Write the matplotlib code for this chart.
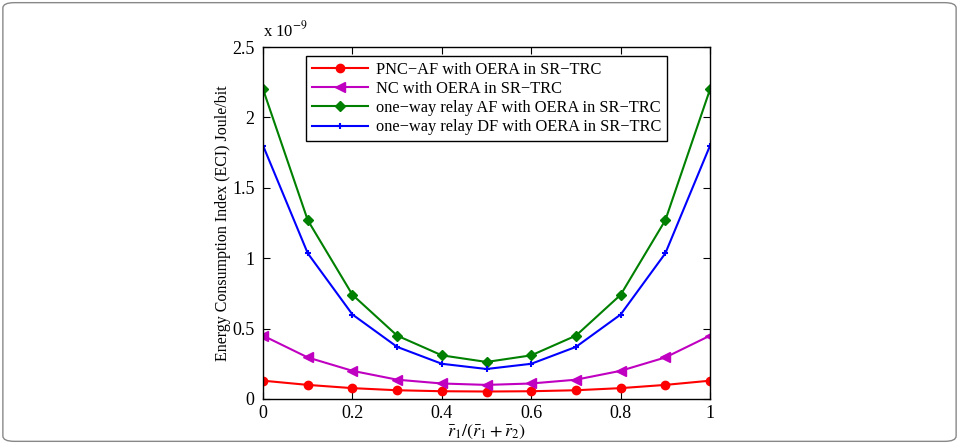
import matplotlib
matplotlib.use("Agg")
import matplotlib.pyplot as plt
from matplotlib.patches import FancyBboxPatch

plt.rcParams['font.family'] = ['Liberation Serif', 'DejaVu Serif']
plt.rcParams['mathtext.fontset'] = 'stix'

# data (units of 1e-9 Joule/bit)
x = [0, 0.1, 0.2, 0.3, 0.4, 0.5, 0.6, 0.7, 0.8, 0.9, 1.0]
pnc_af = [0.13, 0.10, 0.077, 0.062, 0.055, 0.053, 0.055, 0.062, 0.077, 0.10, 0.13]
nc = [0.45, 0.295, 0.20, 0.137, 0.11, 0.10, 0.11, 0.137, 0.20, 0.295, 0.45]
ow_af = [2.2, 1.27, 0.74, 0.45, 0.31, 0.263, 0.31, 0.45, 0.74, 1.27, 2.2]
ow_df = [1.8, 1.035, 0.60, 0.37, 0.25, 0.213, 0.25, 0.37, 0.60, 1.035, 1.8]

labels = ['PNC\u2212AF with OERA in SR\u2212TRC',
          'NC with OERA in SR\u2212TRC',
          'one\u2212way relay AF with OERA in SR\u2212TRC',
          'one\u2212way relay DF with OERA in SR\u2212TRC']

fig = plt.figure(figsize=(9.59, 4.44), dpi=100)
ax = fig.add_axes([0.2743, 0.1014, 0.4661, 0.7926])

ax.plot(x, pnc_af, color='#ff0000', marker='o', ms=6, lw=1.5, label=labels[0])
ax.plot(x, nc, color='#c000c0', marker='<', ms=6.5, lw=1.5, label=labels[1])
ax.plot(x, ow_af, color='#008000', marker='D', ms=5, lw=1.5, label=labels[2])
ax.plot(x, ow_df, color='#0000ff', marker='+', ms=5, mew=1.5, lw=1.5, label=labels[3])

ax.set_xlim(0, 1)
ax.set_ylim(0, 2.5)
ax.set_xticks([0, 0.2, 0.4, 0.6, 0.8, 1])
ax.set_xticklabels(['0', '0.2', '0.4', '0.6', '0.8', '1'])
ax.set_yticks([0, 0.5, 1, 1.5, 2, 2.5])
ax.set_yticklabels(['0', '0.5', '1', '1.5', '2', '2.5'])
ax.tick_params(direction='in', top=True, right=True, labelsize=13, length=5)
ax.tick_params(axis='x', pad=4)
ax.tick_params(axis='y', pad=6)
for s in ax.spines.values():
    s.set_linewidth(1.0)

ax.set_xlabel(r'$\bar{r}_1/(\bar{r}_1+\bar{r}_2)$', fontsize=13, labelpad=1)
ax.set_ylabel('Energy Consumption Index (ECI) Joule/bit', fontsize=11.5, labelpad=1)
ax.text(0, 1.02, r'x 10$^{-9}$', transform=ax.transAxes, fontsize=12,
        ha='left', va='bottom')

leg = ax.legend(loc='upper center', bbox_to_anchor=(0.5, 0.975), fontsize=11.8,
                fancybox=False, edgecolor='black', framealpha=1,
                handlelength=3.4, handletextpad=0.5, borderaxespad=0,
                labelspacing=0.2, borderpad=0.35)
leg.get_frame().set_linewidth(1.0)

border = FancyBboxPatch((0.003, 0.006), 0.994, 0.988, transform=fig.transFigure,
                        boxstyle='round,pad=0,rounding_size=0.012',
                        fill=False, edgecolor='#888888', lw=1.0)
fig.patches.append(border)

fig.savefig('out.png', dpi=100)
